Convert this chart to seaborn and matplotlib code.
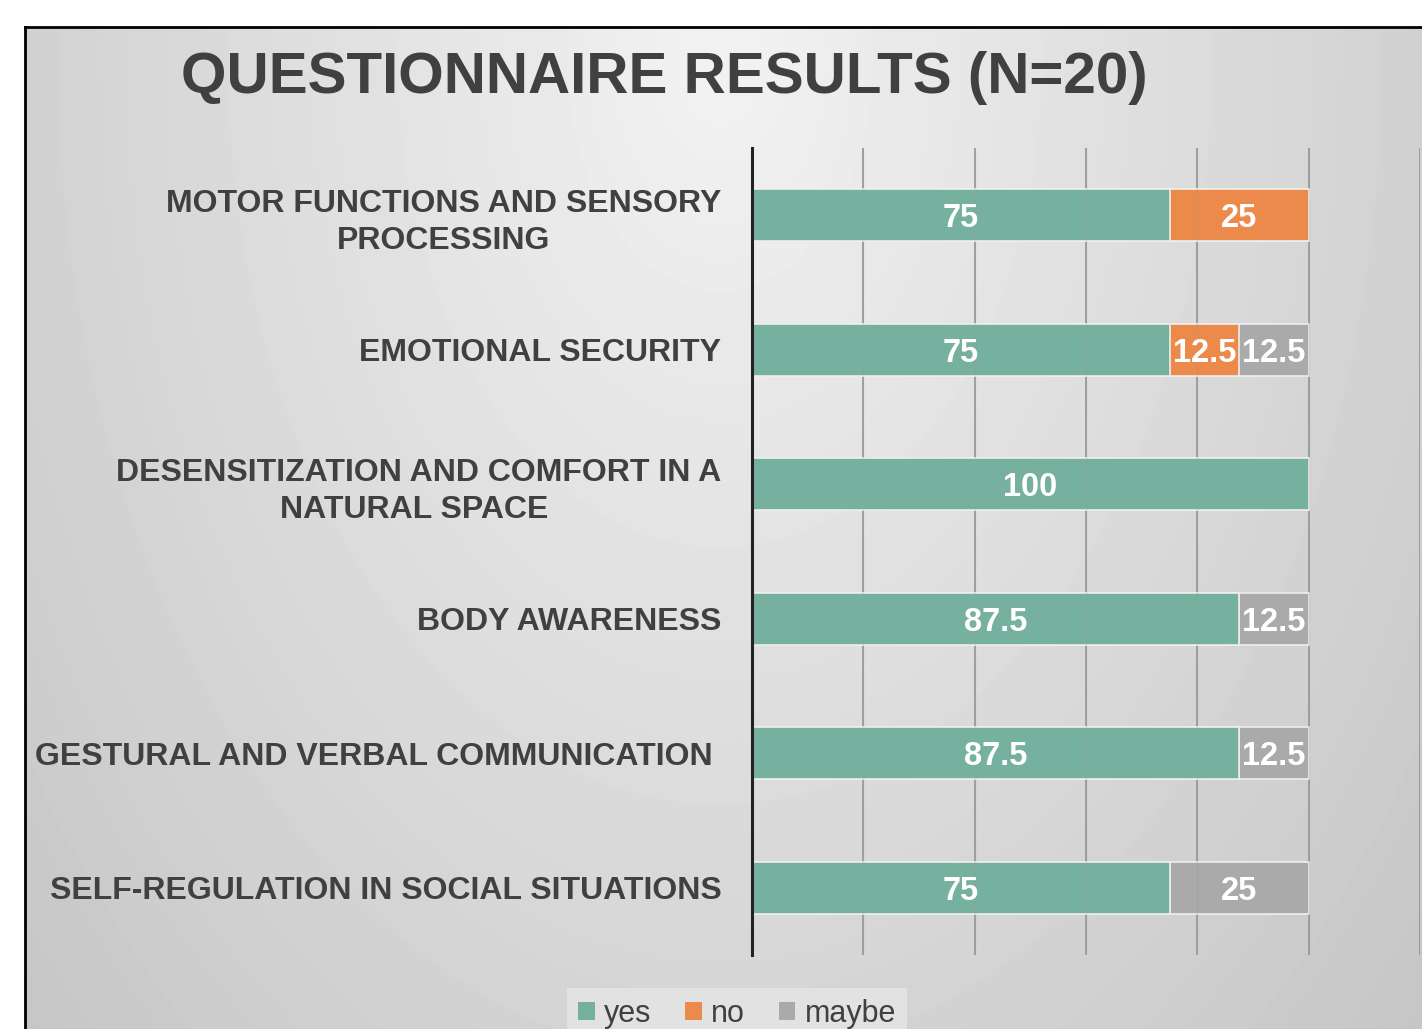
import numpy as np
import pandas as pd
import matplotlib
matplotlib.use("Agg")
import matplotlib.pyplot as plt
import seaborn as sns
from matplotlib.patches import Patch

categories = [
    "MOTOR FUNCTIONS AND SENSORY\nPROCESSING",
    "EMOTIONAL SECURITY",
    "DESENSITIZATION AND COMFORT IN A\nNATURAL SPACE ",
    "BODY AWARENESS",
    "GESTURAL AND VERBAL COMMUNICATION ",
    "SELF-REGULATION IN SOCIAL SITUATIONS",
]
yes_values = [75, 75, 100, 87.5, 87.5, 75]
no_values = [25, 12.5, 0, 0, 0, 0]
maybe_values = [0, 12.5, 0, 12.5, 12.5, 25]
series_names = ["yes", "no", "maybe"]
series_colors = ["#76b09e", "#ec8a4b", "#aaaaaa"]

W, H, DPI = 1422, 1029, 100
TEXT = "#404040"

sns.set_theme(style="white")
plt.rcParams["font.family"] = ["Liberation Sans", "DejaVu Sans"]

fig = plt.figure(figsize=(W / DPI, H / DPI), dpi=DPI, facecolor="white")

# gradient background inside the slide frame
x0, y0 = 25, 27
bg = fig.add_axes([x0 / W, 0, 1 - x0 / W, 1 - y0 / H], zorder=-5)
xs = np.arange(x0, W)
ys = np.arange(y0, H)
gx, gy = np.meshgrid(xs, ys)
r = np.sqrt(((gx - 720) / 760) ** 2 + ((gy - 60) / 1150) ** 2)
shade = 0.95 - 0.14 * r
bg.imshow(shade, cmap="gray", vmin=0, vmax=1, aspect="auto",
          extent=(0, 1, 0, 1), interpolation="bilinear")
bg.set_xticks([])
bg.set_yticks([])
for side, spine in bg.spines.items():
    spine.set_visible(side in ("left", "top"))
    spine.set_color("black")
    spine.set_linewidth(2)

df = pd.DataFrame({
    "category": categories,
    "yes": yes_values,
    "no": no_values,
    "maybe": maybe_values,
})
df["yes_no"] = df["yes"] + df["no"]
df["total"] = df["yes_no"] + df["maybe"]

ax = fig.add_axes([752 / W, 1 - 955 / H, (1420 - 752) / W, (955 - 148) / H])
ax.patch.set_alpha(0)

# stacked bars drawn as cumulative layers
for col, color in zip(["total", "yes_no", "yes"], series_colors[::-1]):
    sns.barplot(data=df, x=col, y="category", color=color, width=0.39,
                edgecolor="#eeeeee", linewidth=1.2, saturation=1, ax=ax,
                zorder=2)

ax.set_xlim(0, 120)
ax.set_ylim(5.5, -0.5)
ax.set_xticks(np.arange(0, 121, 20))
ax.tick_params(axis="x", length=0, labelbottom=False)
ax.tick_params(axis="y", length=0, pad=22)
ax.set_xlabel("")
ax.set_ylabel("")
for x in np.arange(20, 121, 20):
    ax.axvline(x, color="#9a9a9a", linewidth=1.3, zorder=1)
    ax.axvline(x, color="#9a9a9a", linewidth=1.0, alpha=0.25, zorder=3)
for side, spine in ax.spines.items():
    spine.set_visible(side == "left")
ax.spines["left"].set_color("#222222")
ax.spines["left"].set_linewidth(2.2)
ax.spines["left"].set_zorder(4)

for lab in ax.get_yticklabels():
    lab.set_fontsize(23)
    lab.set_fontweight("bold")
    lab.set_color(TEXT)
    lab.set_multialignment("center")
    lab.set_linespacing(1.3)

for i in range(len(categories)):
    left = 0
    for vals in (yes_values, no_values, maybe_values):
        v = vals[i]
        if v > 0:
            ax.text(left + v / 2, i, f"{v:g}", ha="center",
                    va="center_baseline", color="white", fontsize=23.5,
                    fontweight="bold", zorder=5)
        left += v

fig.text(664 / W, 1 - 78 / H, "QUESTIONNAIRE RESULTS (N=20)", ha="center",
         va="center", fontsize=42, fontweight="bold", color=TEXT)

handles = [Patch(facecolor=c, edgecolor="none") for c in series_colors]
leg = fig.legend(handles, series_names, loc="center",
                 bbox_to_anchor=(737 / W, 1 - 1014 / H), ncol=3, frameon=True,
                 fontsize=22, handlelength=0.55, handleheight=0.55,
                 handletextpad=0.3, columnspacing=1.1, borderpad=0.35,
                 fancybox=False)
leg.get_frame().set_facecolor("#e2e2e2")
leg.get_frame().set_edgecolor("none")
leg.get_frame().set_alpha(1)
for t in leg.get_texts():
    t.set_color(TEXT)

fig.savefig("out.png", dpi=DPI, facecolor="white")
